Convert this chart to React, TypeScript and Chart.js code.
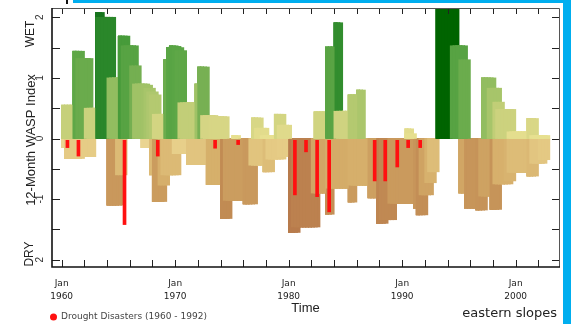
import React, { useEffect, useRef } from 'react';
import { Chart, registerables } from 'chart.js';

Chart.register(...registerables);

// ---------- data (quarterly 12-month WASP index envelopes, 1960 Q1 .. 2002 Q4) ----------
const startYear = 1960;
const stepYears = 0.25;

const wetIndex: number[] = [
  0.55, 0.55, 0.55, 0.55, // 1960
  1.44, 1.44, 1.44, 1.44, // 1961
  1.32, 1.32, 1.32, 0.5, // 1962
  2.08, 2.08, 2.08, 2.0, // 1963
  2.0, 2.0, 2.0, 1.0, // 1964
  1.69, 1.69, 1.69, 1.69, // 1965
  1.53, 1.53, 1.53, 1.2, // 1966
  0.9, 0.9, 0.9, 0.88, // 1967
  0.83, 0.77, 0.72, 0.4, // 1968
  1.3, 1.5, 1.53, 1.53, // 1969
  1.53, 1.52, 1.5, 1.45, // 1970
  0.59, 0.59, 0.59, 0.9, // 1971
  1.18, 1.18, 1.18, 1.18, // 1972
  0.38, 0.38, 0.38, 0.36, // 1973
  0.36, 0.36, 0.36, 0, // 1974
  0.05, 0.05, 0.05, 0, // 1975
  0, 0, 0, 0.34, // 1976
  0.34, 0.34, 0.34, 0.17, // 1977
  0.17, 0.05, 0.05, 0.4, // 1978
  0.4, 0.4, 0.4, 0.22, // 1979
  0.22, 0, 0, 0, // 1980
  0, 0, 0, 0, // 1981
  0, 0.44, 0.44, 0.44, // 1982
  0.44, 1.51, 1.51, 1.51, // 1983
  1.91, 1.91, 1.91, 0.45, // 1984
  0.45, 0.72, 0.72, 0.72, // 1985
  0.8, 0.8, 0.8, 0, // 1986
  0, 0, 0, 0, // 1987
  0, 0, 0, 0, // 1988
  0, 0, 0, 0, // 1989
  0, 0.16, 0.16, 0.16, // 1990
  0.08, 0, 0, 0, // 1991
  0, 0, 0, 0, // 1992
  2.3, 2.3, 2.3, 2.3, // 1993
  2.3, 2.3, 2.3, 2.3, // 1994
  1.53, 1.53, 1.53, 1.3, // 1995
  0, 0, 0, 0, // 1996
  1.0, 1.0, 1.0, 1.0, // 1997
  1.0, 0.83, 0.83, 0.6, // 1998
  0.48, 0.48, 0.48, 0.48, // 1999
  0.11, 0.11, 0.11, 0.11, // 2000
  0.33, 0.33, 0.33, 0.33, // 2001
  0.05, 0.05, 0.05, 0.05, // 2002
];

const dryIndex: number[] = [
  -0.15, -0.33, -0.33, -0.33, // 1960
  -0.33, -0.33, -0.33, -0.33, // 1961
  -0.3, -0.3, -0.3, -0.3, // 1962
  0, 0, 0, 0, // 1963
  -1.1, -1.1, -1.1, -1.1, // 1964
  -1.1, -1.1, -0.6, 0, // 1965
  0, 0, 0, 0, // 1966
  -0.15, -0.15, -0.15, -0.6, // 1967
  -1.04, -1.04, -1.04, -1.04, // 1968
  -1.04, -0.77, -0.6, -0.6, // 1969
  -0.6, -0.6, -0.25, -0.25, // 1970
  -0.43, -0.43, -0.43, -0.43, // 1971
  -0.43, -0.43, -0.43, -0.76, // 1972
  -0.76, -0.76, -0.76, -0.76, // 1973
  -1.32, -1.32, -1.32, -1.32, // 1974
  -1.02, -1.02, -1.02, -1.02, // 1975
  -1.08, -1.08, -1.08, -1.08, // 1976
  -1.08, -0.44, -0.44, -0.55, // 1977
  -0.55, -0.55, -0.55, -0.34, // 1978
  -0.34, -0.34, -0.34, -0.3, // 1979
  -1.55, -1.55, -1.55, -1.55, // 1980
  -1.46, -1.46, -1.46, -1.46, // 1981
  -1.46, -1.46, -1.46, -0.9, // 1982
  -0.9, -1.25, -1.25, -1.25, // 1983
  -0.82, -0.82, -0.82, -0.82, // 1984
  -0.82, -1.05, -1.05, -1.05, // 1985
  -0.77, -0.77, -0.77, -0.77, // 1986
  -0.98, -0.98, -0.98, -1.4, // 1987
  -1.4, -1.4, -1.4, -1.34, // 1988
  -1.34, -1.34, -1.07, -1.07, // 1989
  -1.07, -1.07, -1.07, -1.07, // 1990
  -1.15, -1.26, -1.26, -1.26, // 1991
  -1.26, -0.93, -0.93, -0.73, // 1992
  -0.55, 0, 0, 0, // 1993
  0, 0, 0, 0, // 1994
  -0.9, -0.9, -1.15, -1.15, // 1995
  -1.15, -1.15, -1.18, -1.18, // 1996
  -1.18, -1.18, -0.95, -1.17, // 1997
  -1.17, -1.17, -1.17, -0.75, // 1998
  -0.75, -0.75, -0.75, -0.7, // 1999
  -0.56, -0.56, -0.56, -0.56, // 2000
  -0.62, -0.62, -0.62, -0.62, // 2001
  -0.41, -0.41, -0.41, -0.35, // 2002
];

const disasterYears: number[] = [
  1960.51, 1961.48, 1965.54, 1968.47, 1973.52, 1975.55, 1980.55, 1981.53,
  1982.51, 1983.57, 1987.58, 1988.51, 1989.57, 1990.53, 1991.59,
];
const disasterDepth: number[] = [
  -0.15, -0.29, -1.42, -0.29, -0.16, -0.1, -0.93, -0.22,
  -0.96, -1.21, -0.7, -0.7, -0.47, -0.15, -0.15,
];

const xTickYears: number[] = [1960, 1970, 1980, 1990, 2000];
const yTickValues: number[] = [-2, -1, 0, 1, 2];
const yTickLabels: string[] = ['2', '-1', '0', '1', '2'];
const minorXTicks: number[] = [
  1960, 1962, 1964, 1966, 1968, 1970, 1972, 1974, 1976, 1978, 1980,
  1982, 1984, 1986, 1988, 1990, 1992, 1994, 1996, 1998, 2000, 2002,
];
const minorYTicks: number[] = [-2, -1.5, -1, -0.5, 0, 0.5, 1, 1.5, 2];

// ---------- colour scales ----------
const wetStops: [number, string][] = [
  [0, '#e9e192'], [0.3, '#dcd888'], [0.55, '#c6d07a'], [0.8, '#abc66c'],
  [1.0, '#92bd60'], [1.2, '#74af51'], [1.5, '#5aa545'], [1.8, '#3c9533'],
  [2.0, '#2a872a'], [2.1, '#12701a'], [2.3, '#006400'],
];
const dryStops: [number, string][] = [
  [0, '#eedb9c'], [0.3, '#e6cc86'], [0.5, '#dfc07b'], [0.8, '#d5ad69'],
  [1.0, '#cc9e60'], [1.3, '#c28c54'], [1.6, '#b6784a'],
];

function hexToRgb(h: string) {
  return [parseInt(h.slice(1, 3), 16), parseInt(h.slice(3, 5), 16), parseInt(h.slice(5, 7), 16)];
}
function scaleColor(stops: [number, string][], m: number) {
  if (m <= stops[0][0]) return stops[0][1];
  for (let i = 1; i < stops.length; i++) {
    if (m <= stops[i][0]) {
      const [a, ca] = stops[i - 1];
      const [b, cb] = stops[i];
      const t = (m - a) / (b - a);
      const A = hexToRgb(ca), B = hexToRgb(cb);
      const c = A.map((v, j) => Math.round(v + (B[j] - v) * t));
      return `rgb(${c[0]},${c[1]},${c[2]})`;
    }
  }
  return stops[stops.length - 1][1];
}

// smallest magnitude among the overlapping 12-month windows that follow quarter k
function windowMag(arr: number[], k: number, r: number) {
  let m = Infinity;
  for (let j = k; j <= k + r; j++) {
    const v = j >= 0 && j < arr.length ? Math.abs(arr[j]) : 0;
    m = Math.min(m, v);
  }
  return m;
}

function layer(arr: number[], r: number, sign: number, stops: [number, string][]) {
  const data: any[] = [];
  const colors: string[] = [];
  arr.forEach((_, k) => {
    const m = windowMag(arr, k, r);
    const x = startYear + k * stepYears + stepYears / 2;
    data.push({ x, y: m > 0 ? [0, sign * m] : null });
    colors.push(scaleColor(stops, m));
  });
  return {
    type: 'bar' as const,
    data,
    backgroundColor: colors,
    borderWidth: 0,
    barThickness: 3.2,
    grouped: false,
  };
}

const decorPlugin = {
  id: 'decor',
  afterDraw(chart: any) {
    const { ctx, chartArea: a, scales } = chart;
    const xs = scales.x, ys = scales.y;
    ctx.save();
    ctx.strokeStyle = '#222';
    ctx.lineWidth = 1;
    ctx.beginPath();
    minorXTicks.forEach((yr) => {
      const px = Math.round(xs.getPixelForValue(yr)) + 0.5;
      ctx.moveTo(px, a.top); ctx.lineTo(px, a.top + 6);
      ctx.moveTo(px, a.bottom); ctx.lineTo(px, a.bottom - 7);
    });
    minorYTicks.forEach((v) => {
      const py = Math.round(ys.getPixelForValue(v)) + 0.5;
      ctx.moveTo(a.left, py); ctx.lineTo(a.left + 8, py);
      ctx.moveTo(a.right, py); ctx.lineTo(a.right - 7, py);
    });
    ctx.stroke();
    // frame
    ctx.strokeStyle = '#555';
    ctx.lineWidth = 1;
    ctx.beginPath();
    ctx.moveTo(a.left, a.top + 0.5); ctx.lineTo(a.right + 0.5, a.top + 0.5);
    ctx.lineTo(a.right + 0.5, a.bottom);
    ctx.stroke();
    ctx.strokeStyle = '#111';
    ctx.lineWidth = 1.6;
    ctx.beginPath();
    ctx.moveTo(a.left, a.top); ctx.lineTo(a.left, a.bottom); ctx.lineTo(a.right + 1, a.bottom);
    ctx.stroke();

    // rotated y annotations
    const rot = (text: string, x: number, y: number, font: string) => {
      ctx.save();
      ctx.translate(x, y);
      ctx.rotate(-Math.PI / 2);
      ctx.font = font;
      ctx.fillStyle = '#222';
      ctx.textAlign = 'center';
      ctx.textBaseline = 'middle';
      ctx.fillText(text, 0, 0);
      ctx.restore();
    };
    rot('WET', 31, 34, "12px 'Liberation Sans'");
    rot('12-Month WASP Index', 31, 140, "13px 'Liberation Sans'");
    rot('DRY', 30, 254, "12px 'Liberation Sans'");

    // location label
    ctx.font = "13px 'DejaVu Sans'";
    ctx.fillStyle = '#222';
    ctx.textAlign = 'right';
    ctx.textBaseline = 'alphabetic';
    ctx.fillText('eastern slopes', 557, 316.5);

    // legend
    ctx.fillStyle = '#ff1010';
    ctx.beginPath();
    ctx.arc(53.5, 317, 3.5, 0, Math.PI * 2);
    ctx.fill();
    ctx.font = "9px 'DejaVu Sans'";
    ctx.fillStyle = '#444';
    ctx.textAlign = 'left';
    ctx.textBaseline = 'middle';
    ctx.fillText('Drought Disasters (1960 - 1992)', 61, 317);
    ctx.restore();
  },
};

export default function App() {
  const ref = useRef<HTMLCanvasElement | null>(null);

  useEffect(() => {
    document.body.style.margin = '0';
    const canvas = ref.current;
    if (!canvas) return;

    const datasets: any[] = [];
    datasets.push({
      type: 'bar',
      label: 'Drought Disasters',
      data: disasterYears.map((x, i) => ({ x, y: [-0.03, disasterDepth[i]] })),
      backgroundColor: '#ff1010',
      borderWidth: 0,
      barThickness: 3,
      grouped: false,
    });
    [3, 2, 1, 0].forEach((r) => datasets.push(layer(wetIndex, r, 1, wetStops)));
    [3, 2, 1, 0].forEach((r) => datasets.push(layer(dryIndex, r, -1, dryStops)));

    const chart = new Chart(canvas, {
      type: 'bar',
      data: { datasets },
      plugins: [decorPlugin],
      options: {
        animation: false,
        responsive: false,
        devicePixelRatio: 1,
        layout: { padding: { top: 8, right: 12, left: 0, bottom: 0 } },
        plugins: { legend: { display: false }, tooltip: { enabled: false } },
        scales: {
          x: {
            type: 'linear',
            offset: false,
            min: 1959.15,
            max: 2003.82,
            grid: { display: false, drawTicks: false },
            border: { display: false },
            afterBuildTicks: (s: any) => { s.ticks = xTickYears.map((v) => ({ value: v })); },
            afterFit: (s: any) => { s.height = 57; s.paddingLeft = 0; s.paddingRight = 0; },
            ticks: {
              autoSkip: false,
              maxRotation: 0,
              minRotation: 0,
              padding: 10.5,
              color: '#222',
              font: { family: 'DejaVu Sans', size: 9, lineHeight: 13 / 9 },
              callback: (v: any) => ['Jan', String(v)],
            },
            title: {
              display: true,
              text: 'Time',
              color: '#222',
              font: { family: 'Liberation Sans', size: 13 },
              padding: { top: 0, bottom: 7.5 },
            },
          },
          y: {
            min: -2.12,
            max: 2.153,
            grid: { display: false, drawTicks: false },
            border: { display: false },
            afterBuildTicks: (s: any) => { s.ticks = yTickValues.map((v) => ({ value: v })); },
            afterFit: (s: any) => { s.width = 52; s.paddingTop = 0; s.paddingBottom = 0; },
            ticks: {
              autoSkip: false,
              minRotation: 90,
              maxRotation: 90,
              crossAlign: 'center',
              padding: 7.5,
              color: '#333',
              font: { family: 'Liberation Sans', size: 10 },
              callback: (_v: any, i: number) => yTickLabels[i],
            },
          },
        },
      } as any,
    });
    return () => chart.destroy();
  }, []);

  return (
    <div style={{ position: 'relative', width: 571, height: 324, background: '#fff', overflow: 'hidden' }}>
      <canvas ref={ref} width={571} height={324} style={{ display: 'block', width: 571, height: 324 }} />
      <div style={{ position: 'absolute', left: 73, top: 0, width: 498, height: 3, background: '#00aeef' }} />
      <div style={{ position: 'absolute', left: 563, top: 0, width: 8, height: 324, background: '#00aeef' }} />
      <div style={{ position: 'absolute', left: 66, top: 0, width: 2, height: 4, background: '#111' }} />
    </div>
  );
}
